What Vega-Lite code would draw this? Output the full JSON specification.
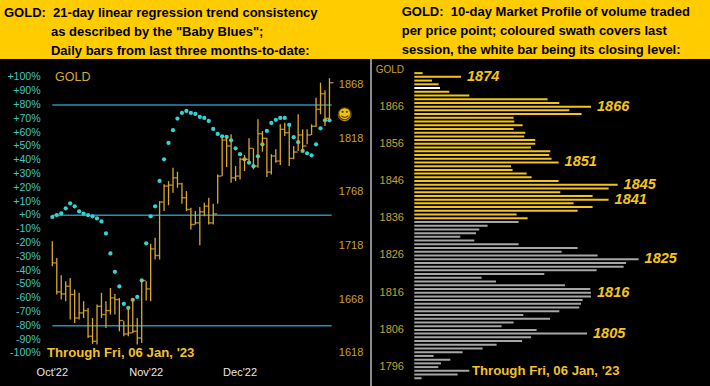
{
  "$schema": "https://vega.github.io/schema/vega-lite/v6.json",
  "background": "#FFCC00",
  "padding": {"left": 0, "right": 0, "top": 5, "bottom": 0},
  "config": {
    "font": "Liberation Sans",
    "view": {"stroke": null},
    "concat": {"spacing": 0},
    "title": {"anchor": "start", "fontSize": 13, "fontWeight": "bold", "color": "#000000", "lineHeight": 19.3, "offset": 0.6, "font": "Liberation Sans", "frame": "group"}
  },
  "datasets": {
    "bars": [
      {"i": 0, "high": 1722.5, "low": 1699.2, "close": 1702.2, "bb": -1.2},
      {"i": 1, "high": 1706.9, "low": 1672.8, "close": 1675.2, "bb": 0.2},
      {"i": 2, "high": 1690.8, "low": 1668.1, "close": 1673.3, "bb": 1.4},
      {"i": 3, "high": 1685.2, "low": 1666.5, "close": 1680.5, "bb": 5.1},
      {"i": 4, "high": 1688.2, "low": 1649.4, "close": 1672.8, "bb": 8.7},
      {"i": 5, "high": 1677.4, "low": 1646.3, "close": 1650.9, "bb": 6.5},
      {"i": 6, "high": 1674.3, "low": 1649.4, "close": 1655.6, "bb": 2.9},
      {"i": 7, "high": 1666.5, "low": 1650.9, "close": 1657.8, "bb": 1.2},
      {"i": 8, "high": 1660.3, "low": 1632.3, "close": 1633.9, "bb": 0.2},
      {"i": 9, "high": 1650.9, "low": 1626.7, "close": 1629.2, "bb": -0.7},
      {"i": 10, "high": 1663.4, "low": 1626.1, "close": 1661.8, "bb": -2.2},
      {"i": 11, "high": 1674.3, "low": 1650.9, "close": 1654.1, "bb": -4.4},
      {"i": 12, "high": 1666.5, "low": 1641.6, "close": 1657.8, "bb": -13.1},
      {"i": 13, "high": 1678.9, "low": 1654.1, "close": 1669.6, "bb": -27.6},
      {"i": 14, "high": 1673.3, "low": 1654.1, "close": 1668.1, "bb": -40.9},
      {"i": 15, "high": 1669.6, "low": 1638.5, "close": 1648.5, "bb": -51.5},
      {"i": 16, "high": 1647.9, "low": 1633.9, "close": 1636.0, "bb": -64.1},
      {"i": 17, "high": 1660.3, "low": 1633.9, "close": 1637.0, "bb": -67.1},
      {"i": 18, "high": 1669.6, "low": 1637.0, "close": 1638.5, "bb": -61.2},
      {"i": 19, "high": 1650.9, "low": 1626.1, "close": 1632.3, "bb": -59.1},
      {"i": 20, "high": 1686.8, "low": 1627.6, "close": 1685.8, "bb": -47.2},
      {"i": 21, "high": 1685.2, "low": 1667.2, "close": 1678.0, "bb": -20.3},
      {"i": 22, "high": 1720.0, "low": 1666.5, "close": 1715.3, "bb": -0.7},
      {"i": 23, "high": 1725.6, "low": 1705.4, "close": 1709.1, "bb": 6.5},
      {"i": 24, "high": 1759.8, "low": 1705.4, "close": 1758.9, "bb": 24.9},
      {"i": 25, "high": 1775.4, "low": 1750.5, "close": 1773.8, "bb": 40.6},
      {"i": 26, "high": 1778.4, "low": 1756.0, "close": 1774.7, "bb": 52.5},
      {"i": 27, "high": 1790.9, "low": 1767.5, "close": 1781.5, "bb": 61.7},
      {"i": 28, "high": 1787.1, "low": 1772.2, "close": 1775.9, "bb": 70.1},
      {"i": 29, "high": 1776.9, "low": 1757.3, "close": 1762.9, "bb": 74.2},
      {"i": 30, "high": 1769.1, "low": 1750.5, "close": 1752.0, "bb": 75.7},
      {"i": 31, "high": 1753.5, "low": 1733.4, "close": 1738.0, "bb": 74.2},
      {"i": 32, "high": 1750.5, "low": 1738.0, "close": 1739.5, "bb": 73.5},
      {"i": 33, "high": 1754.2, "low": 1718.7, "close": 1749.8, "bb": 71.3},
      {"i": 34, "high": 1758.2, "low": 1745.8, "close": 1755.1, "bb": 70.6},
      {"i": 35, "high": 1762.9, "low": 1738.0, "close": 1739.5, "bb": 68.4},
      {"i": 36, "high": 1757.3, "low": 1738.0, "close": 1747.9, "bb": 62.6},
      {"i": 37, "high": 1784.7, "low": 1757.3, "close": 1783.1, "bb": 59.0},
      {"i": 38, "high": 1818.8, "low": 1783.1, "close": 1816.7, "bb": 57.3},
      {"i": 39, "high": 1819.5, "low": 1791.5, "close": 1811.1, "bb": 56.8},
      {"i": 40, "high": 1822.0, "low": 1776.9, "close": 1781.5, "bb": 54.4},
      {"i": 41, "high": 1792.4, "low": 1778.4, "close": 1783.1, "bb": 48.6},
      {"i": 42, "high": 1800.2, "low": 1780.0, "close": 1798.7, "bb": 44.3},
      {"i": 43, "high": 1802.7, "low": 1787.8, "close": 1798.7, "bb": 40.6},
      {"i": 44, "high": 1818.3, "low": 1797.1, "close": 1808.9, "bb": 38.2},
      {"i": 45, "high": 1808.9, "low": 1789.4, "close": 1792.4, "bb": 35.6},
      {"i": 46, "high": 1836.0, "low": 1790.9, "close": 1822.6, "bb": 42.8},
      {"i": 47, "high": 1825.1, "low": 1805.8, "close": 1818.3, "bb": 51.5},
      {"i": 48, "high": 1818.8, "low": 1782.2, "close": 1786.8, "bb": 61.2},
      {"i": 49, "high": 1803.4, "low": 1784.7, "close": 1801.8, "bb": 67.0},
      {"i": 50, "high": 1808.0, "low": 1795.5, "close": 1797.1, "bb": 69.2},
      {"i": 51, "high": 1831.3, "low": 1793.4, "close": 1826.7, "bb": 70.6},
      {"i": 52, "high": 1832.8, "low": 1820.4, "close": 1823.5, "bb": 70.6},
      {"i": 53, "high": 1828.8, "low": 1792.4, "close": 1799.6, "bb": 65.5},
      {"i": 54, "high": 1811.1, "low": 1798.7, "close": 1805.5, "bb": 56.6},
      {"i": 55, "high": 1840.7, "low": 1806.4, "close": 1821.4, "bb": 53.0},
      {"i": 56, "high": 1826.7, "low": 1805.8, "close": 1811.1, "bb": 46.7},
      {"i": 57, "high": 1826.7, "low": 1812.7, "close": 1821.4, "bb": 45.0},
      {"i": 58, "high": 1831.3, "low": 1821.4, "close": 1829.5, "bb": 43.5},
      {"i": 59, "high": 1856.2, "low": 1828.8, "close": 1845.3, "bb": 51.5},
      {"i": 60, "high": 1870.1, "low": 1840.7, "close": 1859.9, "bb": 63.1},
      {"i": 61, "high": 1863.0, "low": 1829.8, "close": 1836.9, "bb": 68.9},
      {"i": 62, "high": 1874.3, "low": 1836.0, "close": 1870.1, "bb": 68.9}
    ],
    "levels": [{"level": 80}, {"level": 0}, {"level": -80}],
    "pctTicks": [
      {"v": 100, "lab": "+100%"}, {"v": 90, "lab": "+90%"}, {"v": 80, "lab": "+80%"}, {"v": 70, "lab": "+70%"},
      {"v": 60, "lab": "+60%"}, {"v": 50, "lab": "+50%"}, {"v": 40, "lab": "+40%"}, {"v": 30, "lab": "+30%"},
      {"v": 20, "lab": "+20%"}, {"v": 10, "lab": "+10%"}, {"v": 0, "lab": "+0%"}, {"v": -10, "lab": "-10%"},
      {"v": -20, "lab": "-20%"}, {"v": -30, "lab": "-30%"}, {"v": -40, "lab": "-40%"}, {"v": -50, "lab": "-50%"},
      {"v": -60, "lab": "-60%"}, {"v": -70, "lab": "-70%"}, {"v": -80, "lab": "-80%"}, {"v": -90, "lab": "-90%"},
      {"v": -100, "lab": "-100%"}
    ],
    "priceTicks": [
      {"p": 1618}, {"p": 1668}, {"p": 1718}, {"p": 1768}, {"p": 1818}, {"p": 1868}
    ],
    "months": [
      {"i": 0, "m": "Oct'22"}, {"i": 21, "m": "Nov'22"}, {"i": 42, "m": "Dec'22"}
    ],
    "profileTicks": [
      {"price": 1796}, {"price": 1806}, {"price": 1816}, {"price": 1826},
      {"price": 1836}, {"price": 1846}, {"price": 1856}, {"price": 1866}
    ],
    "profile": [
      {"price": 1875, "vol": 8.3, "seg": "session"},
      {"price": 1874, "vol": 46.7, "seg": "session"},
      {"price": 1873, "vol": 17.7, "seg": "session"},
      {"price": 1872, "vol": 24.3, "seg": "session"},
      {"price": 1871, "vol": 25.7, "seg": "close"},
      {"price": 1870, "vol": 35, "seg": "session"},
      {"price": 1869, "vol": 55, "seg": "session"},
      {"price": 1868, "vol": 133.3, "seg": "session"},
      {"price": 1867, "vol": 145, "seg": "session"},
      {"price": 1866, "vol": 176.7, "seg": "session"},
      {"price": 1865, "vol": 155, "seg": "session"},
      {"price": 1864, "vol": 167.3, "seg": "session"},
      {"price": 1863, "vol": 99.3, "seg": "session"},
      {"price": 1862, "vol": 100, "seg": "session"},
      {"price": 1861, "vol": 108.3, "seg": "session"},
      {"price": 1860, "vol": 99.3, "seg": "session"},
      {"price": 1859, "vol": 111, "seg": "session"},
      {"price": 1858, "vol": 110, "seg": "session"},
      {"price": 1857, "vol": 121, "seg": "session"},
      {"price": 1856, "vol": 121, "seg": "session"},
      {"price": 1855, "vol": 116.7, "seg": "session"},
      {"price": 1854, "vol": 136, "seg": "session"},
      {"price": 1853, "vol": 135, "seg": "session"},
      {"price": 1852, "vol": 137.3, "seg": "session"},
      {"price": 1851, "vol": 144.3, "seg": "session"},
      {"price": 1850, "vol": 96.7, "seg": "session"},
      {"price": 1849, "vol": 98.3, "seg": "session"},
      {"price": 1848, "vol": 112.3, "seg": "session"},
      {"price": 1847, "vol": 117.3, "seg": "session"},
      {"price": 1846, "vol": 144.3, "seg": "session"},
      {"price": 1845, "vol": 203.3, "seg": "session"},
      {"price": 1844, "vol": 194.3, "seg": "session"},
      {"price": 1843, "vol": 146, "seg": "session"},
      {"price": 1842, "vol": 178.3, "seg": "session"},
      {"price": 1841, "vol": 194.3, "seg": "session"},
      {"price": 1840, "vol": 159.3, "seg": "session"},
      {"price": 1839, "vol": 178.3, "seg": "session"},
      {"price": 1838, "vol": 163.3, "seg": "session"},
      {"price": 1837, "vol": 102.3, "seg": "session"},
      {"price": 1836, "vol": 113.3, "seg": "session"},
      {"price": 1835, "vol": 104.3, "seg": "prior"},
      {"price": 1834, "vol": 73.3, "seg": "prior"},
      {"price": 1833, "vol": 65, "seg": "prior"},
      {"price": 1832, "vol": 61.7, "seg": "prior"},
      {"price": 1831, "vol": 46, "seg": "prior"},
      {"price": 1830, "vol": 60, "seg": "prior"},
      {"price": 1829, "vol": 104.3, "seg": "prior"},
      {"price": 1828, "vol": 163.3, "seg": "prior"},
      {"price": 1827, "vol": 147.3, "seg": "prior"},
      {"price": 1826, "vol": 183.3, "seg": "prior"},
      {"price": 1825, "vol": 224.3, "seg": "prior"},
      {"price": 1824, "vol": 211.7, "seg": "prior"},
      {"price": 1823, "vol": 209.3, "seg": "prior"},
      {"price": 1822, "vol": 182.3, "seg": "prior"},
      {"price": 1821, "vol": 130, "seg": "prior"},
      {"price": 1820, "vol": 67.3, "seg": "prior"},
      {"price": 1819, "vol": 81.7, "seg": "prior"},
      {"price": 1818, "vol": 150.7, "seg": "prior"},
      {"price": 1817, "vol": 176, "seg": "prior"},
      {"price": 1816, "vol": 176.7, "seg": "prior"},
      {"price": 1815, "vol": 176.7, "seg": "prior"},
      {"price": 1814, "vol": 168.3, "seg": "prior"},
      {"price": 1813, "vol": 166.7, "seg": "prior"},
      {"price": 1812, "vol": 165, "seg": "prior"},
      {"price": 1811, "vol": 145, "seg": "prior"},
      {"price": 1810, "vol": 109, "seg": "prior"},
      {"price": 1809, "vol": 135.7, "seg": "prior"},
      {"price": 1808, "vol": 99.3, "seg": "prior"},
      {"price": 1807, "vol": 87.3, "seg": "prior"},
      {"price": 1806, "vol": 122.3, "seg": "prior"},
      {"price": 1805, "vol": 172.7, "seg": "prior"},
      {"price": 1804, "vol": 116.7, "seg": "prior"},
      {"price": 1803, "vol": 107.7, "seg": "prior"},
      {"price": 1802, "vol": 82.3, "seg": "prior"},
      {"price": 1801, "vol": 68.3, "seg": "prior"},
      {"price": 1800, "vol": 48.3, "seg": "prior"},
      {"price": 1799, "vol": 19.3, "seg": "prior"},
      {"price": 1798, "vol": 36, "seg": "prior"},
      {"price": 1797, "vol": 26.7, "seg": "prior"},
      {"price": 1796, "vol": 24, "seg": "prior"},
      {"price": 1795, "vol": 55, "seg": "prior"},
      {"price": 1794, "vol": 43.3, "seg": "prior"},
      {"price": 1793, "vol": 7.3, "seg": "prior"}
    ],
    "peaks": [
      {"price": 1874, "vol": 46.7, "label": "1874"},
      {"price": 1866, "vol": 176.7, "label": "1866"},
      {"price": 1851, "vol": 144.3, "label": "1851"},
      {"price": 1845, "vol": 203.3, "label": "1845"},
      {"price": 1841, "vol": 194.3, "label": "1841"},
      {"price": 1825, "vol": 224.3, "label": "1825"},
      {"price": 1816, "vol": 176.7, "label": "1816"},
      {"price": 1805, "vol": 172.7, "label": "1805"}
    ]
  },
  "hconcat": [
    {
      "width": 370,
      "height": 328,
      "title": {
        "text": [
          "GOLD:\u00a0 21-day linear regression trend consistency",
          "\u200b\u00a0\u00a0\u00a0\u00a0\u00a0\u00a0\u00a0\u00a0\u00a0\u00a0\u00a0\u00a0\u00a0as described by the \"Baby Blues\";",
          "\u200b\u00a0\u00a0\u00a0\u00a0\u00a0\u00a0\u00a0\u00a0\u00a0\u00a0\u00a0\u00a0\u00a0Daily bars from last three months-to-date:"
        ],
        "dx": 4
      },
      "view": {"fill": "#000000", "stroke": null},
      "resolve": {"scale": {"y": "independent"}},
      "layer": [
        {
          "layer": [
            {
              "data": {"name": "levels"},
              "mark": {"type": "rule", "color": "#2B8DB5", "strokeWidth": 1.5},
              "encoding": {
                "y": {"field": "level", "type": "quantitative", "scale": {"domain": [-124.4, 113.3], "nice": false, "zero": false}, "axis": null},
                "x": {"datum": 0, "type": "quantitative", "scale": {"domain": [-11.7, 71.07], "nice": false, "zero": false}, "axis": null},
                "x2": {"datum": 62.5}
              }
            },
            {
              "data": {"name": "bars"},
              "mark": {"type": "circle", "color": "#33D4D4", "size": 18, "opacity": 1},
              "encoding": {
                "x": {"field": "i", "type": "quantitative", "scale": {"domain": [-11.7, 71.07], "nice": false, "zero": false}, "axis": null},
                "y": {"field": "bb", "type": "quantitative", "scale": {"domain": [-124.4, 113.3], "nice": false, "zero": false}, "axis": null}
              }
            },
            {
              "data": {"name": "pctTicks"},
              "mark": {"type": "text", "align": "right", "baseline": "middle", "color": "#3CC8C8", "fontSize": 10.6, "font": "Liberation Sans"},
              "encoding": {
                "x": {"datum": -2.6, "type": "quantitative", "axis": null},
                "y": {"field": "v", "type": "quantitative", "axis": null},
                "text": {"field": "lab"}
              }
            },
            {
              "data": {"values": [{"label": "GOLD"}]},
              "mark": {"type": "text", "align": "left", "baseline": "middle", "color": "#D8A830", "fontSize": 12.5, "font": "Liberation Sans"},
              "encoding": {
                "x": {"datum": 0.6, "type": "quantitative", "axis": null},
                "y": {"datum": 100, "type": "quantitative", "axis": null},
                "text": {"field": "label"}
              }
            }
          ]
        },
        {
          "layer": [
            {
              "data": {"name": "bars"},
              "mark": {"type": "rule", "color": "#D8A82A", "strokeWidth": 1.3},
              "encoding": {
                "x": {"field": "i", "type": "quantitative", "axis": null},
                "y": {"field": "low", "type": "quantitative", "scale": {"domain": [1586.6, 1892.2], "nice": false, "zero": false}, "axis": null},
                "y2": {"field": "high"}
              }
            },
            {
              "data": {"name": "bars"},
              "mark": {"type": "tick", "orient": "horizontal", "size": 4, "thickness": 1.4, "xOffset": 2, "color": "#E8B830"},
              "encoding": {
                "x": {"field": "i", "type": "quantitative", "axis": null},
                "y": {"field": "close", "type": "quantitative", "axis": null}
              }
            },
            {
              "data": {"name": "priceTicks"},
              "mark": {"type": "text", "align": "left", "baseline": "middle", "color": "#C8A030", "fontSize": 11, "font": "Liberation Sans"},
              "encoding": {
                "x": {"datum": 64.1, "type": "quantitative", "axis": null},
                "y": {"field": "p", "type": "quantitative", "axis": null},
                "text": {"field": "p", "format": "d"}
              }
            },
            {
              "data": {"name": "months"},
              "mark": {"type": "text", "align": "center", "baseline": "middle", "color": "#E8E8E8", "fontSize": 11, "font": "Liberation Sans"},
              "encoding": {
                "x": {"field": "i", "type": "quantitative", "axis": null},
                "y": {"datum": 1599.4, "type": "quantitative", "axis": null},
                "text": {"field": "m"}
              }
            },
            {
              "data": {"values": [{"note": "smiley"}]},
              "mark": {"type": "circle", "color": "#F5C400", "size": 170, "opacity": 1, "stroke": "#8A6A00", "strokeWidth": 0.8},
              "encoding": {
                "x": {"datum": 65.4, "type": "quantitative", "axis": null},
                "y": {"datum": 1840.5, "type": "quantitative", "axis": null}
              }
            },
            {
              "data": {"values": [{"note": "\u263a"}]},
              "mark": {"type": "text", "align": "center", "baseline": "middle", "color": "#4A3600", "fontSize": 15, "font": "DejaVu Sans"},
              "encoding": {
                "x": {"datum": 65.4, "type": "quantitative", "axis": null},
                "y": {"datum": 1840.5, "type": "quantitative", "axis": null},
                "text": {"field": "note"}
              }
            },
            {
              "data": {"values": [{"t": "Through Fri, 06 Jan, '23"}]},
              "mark": {"type": "text", "align": "left", "baseline": "middle", "color": "#F2C12E", "fontSize": 13.2, "fontWeight": "bold", "font": "Liberation Sans"},
              "encoding": {
                "x": {"datum": -1.2, "type": "quantitative", "axis": null},
                "y": {"datum": 1618, "type": "quantitative", "axis": null},
                "text": {"field": "t"}
              }
            }
          ]
        }
      ]
    },
    {
      "width": 340,
      "height": 328,
      "title": {
        "text": [
          "GOLD:\u00a0 10-day Market Profile of volume traded",
          "per price point; coloured swath covers last",
          "session, the white bar being its closing level:"
        ],
        "dx": 30.7
      },
      "view": {"fill": "#000000", "stroke": null},
      "layer": [
        {
          "data": {"values": [{"note": "divider"}]},
          "mark": {"type": "rule", "color": "#8C8C8C", "strokeWidth": 2},
          "encoding": {
            "x": {"datum": -43.3, "type": "quantitative", "scale": {"domain": [-43.3, 296.7], "nice": false, "zero": false}, "axis": null}
          }
        },
        {
          "data": {"name": "profile"},
          "mark": {"type": "rule", "strokeWidth": 2},
          "encoding": {
            "x": {"field": "vol", "type": "quantitative", "scale": {"domain": [-43.3, 296.7], "nice": false, "zero": false}, "axis": null},
            "x2": {"datum": 0},
            "y": {"field": "price", "type": "quantitative", "scale": {"domain": [1790.65, 1878.8], "nice": false, "zero": false}, "axis": null},
            "color": {"field": "seg", "type": "nominal", "scale": {"domain": ["session", "close", "prior"], "range": ["#F2C41C", "#FFFFFF", "#A6A6A6"]}, "legend": null}
          }
        },
        {
          "data": {"name": "profileTicks"},
          "mark": {"type": "text", "align": "right", "baseline": "middle", "color": "#C8A030", "fontSize": 11, "font": "Liberation Sans"},
          "encoding": {
            "x": {"datum": -10.3, "type": "quantitative", "axis": null},
            "y": {"field": "price", "type": "quantitative", "axis": null},
            "text": {"field": "price", "format": "d"}
          }
        },
        {
          "data": {"name": "peaks"},
          "mark": {"type": "text", "align": "left", "baseline": "middle", "dx": 6, "color": "#F5C518", "fontSize": 14.5, "fontWeight": "bold", "fontStyle": "italic", "font": "Liberation Sans"},
          "encoding": {
            "x": {"field": "vol", "type": "quantitative", "axis": null},
            "y": {"field": "price", "type": "quantitative", "axis": null},
            "text": {"field": "label"}
          }
        },
        {
          "data": {"values": [{"label": "GOLD"}]},
          "mark": {"type": "text", "align": "right", "baseline": "middle", "color": "#C8A030", "fontSize": 10, "font": "Liberation Sans"},
          "encoding": {
            "x": {"datum": -10.3, "type": "quantitative", "axis": null},
            "y": {"datum": 1875.9, "type": "quantitative", "axis": null},
            "text": {"field": "label"}
          }
        },
        {
          "data": {"values": [{"t": "Through Fri, 06 Jan, '23"}]},
          "mark": {"type": "text", "align": "left", "baseline": "middle", "color": "#F2C12E", "fontSize": 13.2, "fontWeight": "bold", "font": "Liberation Sans"},
          "encoding": {
            "x": {"datum": 57.7, "type": "quantitative", "axis": null},
            "y": {"datum": 1795, "type": "quantitative", "axis": null},
            "text": {"field": "t"}
          }
        }
      ]
    }
  ]
}
